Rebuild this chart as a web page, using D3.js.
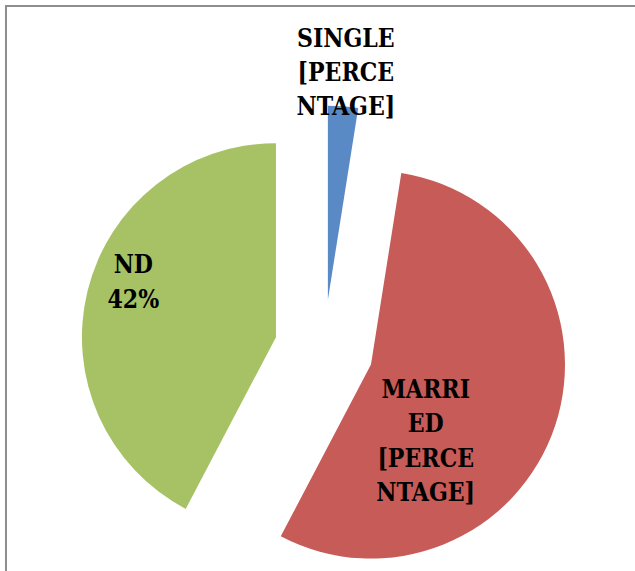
<!DOCTYPE html>
<html>
<head>
<meta charset="utf-8">
<script src="https://cdn.jsdelivr.net/npm/d3@7"></script>
<style>
  html, body { margin: 0; padding: 0; background: #fff; overflow: hidden; }
  svg { display: block; }
  .lbl { font-family: "DejaVu Serif", "Liberation Serif", serif; font-weight: bold; }
</style>
</head>
<body>
<svg id="chart" width="635" height="571"></svg>
<script>
// ---- data ----
const categories = ["SINGLE", "MARRIED", "ND"];
const values = [2.5, 55.2, 42.3];
const labelLines = [
  ["SINGLE", "[PERCE", "NTAGE]"],
  ["MARRI", "ED", "[PERCE", "NTAGE]"],
  ["ND", "42%"]
];
const colors = ["#5A8AC6", "#C65B57", "#A6C265"];

// ---- layout (not data) ----
const W = 635, H = 571;
const cx = 324, cy = 349, R = 194, explode = 49.5;
const labelPlace = [   // polar placement from each slice apex: angle (deg, clockwise from top), distance in radii
  { ang: 4.5, dist: 1.18 },
  { ang: 144, dist: 0.48 },
  { ang: 291.5, dist: 0.79 }
];
const fontSize = 26, squeeze = 0.85;
const lineH = 34.3, capH = 19;

const svg = d3.select("#chart");

// frame
svg.append("rect")
  .attr("x", 6).attr("y", 6)
  .attr("width", W + 50).attr("height", H + 50)
  .attr("fill", "none")
  .attr("stroke", "#8E8E8E")
  .attr("stroke-width", 2);

const pie = d3.pie().sort(null).value(d => d.v).startAngle(0).endAngle(2 * Math.PI);
const arcs = pie(categories.map((c, i) => ({ c, v: values[i], i })));
const arc = d3.arc().innerRadius(0).outerRadius(R);

const polar = (a, r) => [r * Math.sin(a), -r * Math.cos(a)];

const g = svg.append("g").attr("transform", `translate(${cx},${cy})`);

const slices = g.selectAll("g.slice").data(arcs).join("g")
  .attr("class", "slice")
  .attr("transform", d => {
    const [x, y] = polar((d.startAngle + d.endAngle) / 2, explode);
    return `translate(${x},${y})`;
  });

slices.append("path")
  .attr("d", arc)
  .attr("fill", (d, i) => colors[i]);

slices.each(function (d, i) {
  const p = labelPlace[i];
  const [lx, ly] = polar(p.ang * Math.PI / 180, p.dist * R);
  const lines = labelLines[i];
  const first = -(lines.length - 1) / 2 * lineH + capH / 2;
  const t = d3.select(this).append("g")
    .attr("transform", `translate(${lx},${ly}) scale(${squeeze},1)`)
    .append("text")
    .attr("class", "lbl")
    .attr("text-anchor", "middle")
    .attr("font-size", fontSize)
    .attr("fill", "#000");
  lines.forEach((ln, k) => {
    t.append("tspan").attr("x", 0).attr("y", first + k * lineH).text(ln);
  });
});
</script>
</body>
</html>
